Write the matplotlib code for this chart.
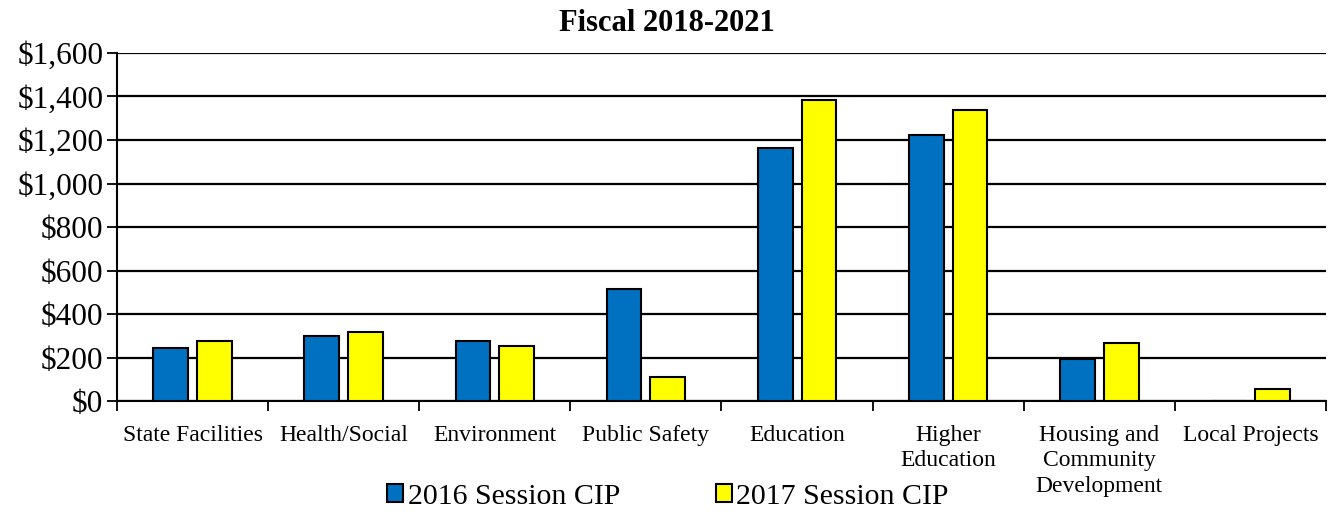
import numpy as np
import matplotlib
matplotlib.use("Agg")
import matplotlib.pyplot as plt
from matplotlib.ticker import FuncFormatter

plt.rcParams['font.family'] = ['Liberation Serif', 'DejaVu Serif']

# capital spending by program area ($ millions)
categories = ["State Facilities", "Health/Social", "Environment", "Public Safety",
              "Education", "Higher\nEducation", "Housing and\nCommunity\nDevelopment",
              "Local Projects"]
cip_2016 = [243, 298, 275, 516, 1161, 1222, 194, 0]
cip_2017 = [275, 316, 252, 112, 1384, 1339, 266, 55]
series_names = ["2016 Session CIP", "2017 Session CIP"]

fig = plt.figure(figsize=(13.33, 5.14), dpi=100)
ax = fig.add_axes([0.0878, 0.2198, 0.9069, 0.6771])

x = np.arange(len(categories))
w = 0.23
off = 0.145
ax.bar(x - off, cip_2016, w, color="#0070C0", edgecolor="black", linewidth=1.5,
       label=series_names[0], zorder=3)
ax.bar(x + off, cip_2017, w, color="#FFFF00", edgecolor="black", linewidth=1.5,
       label=series_names[1], zorder=3)

ax.set_xlim(-0.5, len(categories) - 0.5)
ax.set_ylim(0, 1600)
ax.set_yticks(np.arange(0, 1601, 200))
ax.yaxis.set_major_formatter(FuncFormatter(lambda v, p: "${:,.0f}".format(v)))
ax.yaxis.grid(True, color="black", linewidth=1.6, zorder=0)
ax.set_axisbelow(True)

# category labels centered, ticks on the boundaries
ax.set_xticks(x)
ax.set_xticklabels(categories, fontsize=17, va="top", linespacing=1.3)
ax.tick_params(axis="x", length=0, pad=17)
ax.set_xticks(np.arange(-0.5, len(categories)), minor=True)
ax.tick_params(axis="x", which="minor", length=7, width=1.3, direction="out")
ax.tick_params(axis="y", labelsize=22.5, length=7, width=1.3, pad=3)

for s in ["top", "right"]:
    ax.spines[s].set_visible(False)
ax.spines["left"].set_linewidth(1.5)
ax.spines["bottom"].set_linewidth(1.5)

fig.text(0.5, 0.955, "Fiscal 2018-2021", fontsize=22, fontweight="bold",
         ha="center", va="center")

fig.legend(loc="center", bbox_to_anchor=(0.501, 0.033), ncol=2, frameon=False,
           fontsize=21.5, handlelength=0.55, handleheight=0.55, handletextpad=0.15,
           columnspacing=3.2, borderaxespad=0)

fig.savefig("out.png", dpi=100)
